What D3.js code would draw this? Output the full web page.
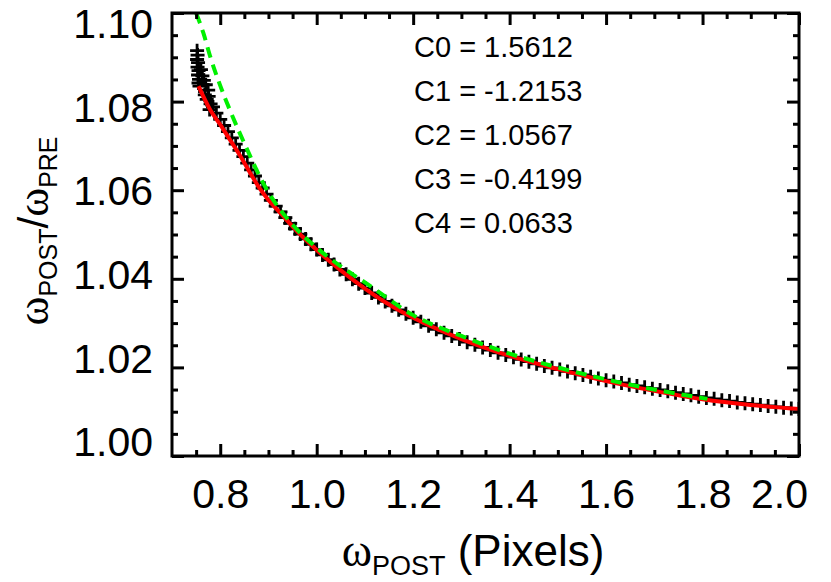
<!DOCTYPE html>
<html>
<head>
<meta charset="utf-8">
<script src="https://cdn.jsdelivr.net/npm/d3@7"></script>
<style>
  html, body { margin: 0; padding: 0; background: #fff; }
  svg { display: block; }
</style>
</head>
<body>
<svg id="chart" width="831" height="582"></svg>
<script>
// ---------------- DATA ----------------
const xMajor = [0.8, 1.0, 1.2, 1.4, 1.6, 1.8, 2.0];
const xTickLabels = ["0.8", "1.0", "1.2", "1.4", "1.6", "1.8", "2.0"];
const xMinor = [0.75, 0.85, 0.9, 0.95, 1.05, 1.1, 1.15, 1.25, 1.3, 1.35, 1.45, 1.5, 1.55, 1.65, 1.7, 1.75, 1.85, 1.9, 1.95];
const yMajor = [1.00, 1.02, 1.04, 1.06, 1.08, 1.10];
const yTickLabels = ["1.00", "1.02", "1.04", "1.06", "1.08", "1.10"];
const yMinor = [1.005, 1.01, 1.015, 1.025, 1.03, 1.035, 1.045, 1.05, 1.055, 1.065, 1.07, 1.075, 1.085, 1.09, 1.095];

const coefNames = ["C0", "C1", "C2", "C3", "C4"];
const coefValues = ["1.5612", "-1.2153", "1.0567", "-0.4199", "0.0633"];

// measured points (crosses)
const ptX = [0.752, 0.753, 0.752, 0.754, 0.753, 0.755, 0.754, 0.756, 0.755, 0.757,
  0.760, 0.763, 0.766, 0.770, 0.768, 0.772, 0.776, 0.780, 0.778, 0.775,
  0.785, 0.792, 0.800, 0.808, 0.816, 0.824, 0.832, 0.840, 0.848, 0.856,
  0.864, 0.872, 0.880, 0.888, 0.896, 0.905, 0.915, 0.925, 0.935, 0.945,
  0.955, 0.966, 0.977, 0.988, 1.000, 1.012, 1.024, 1.036, 1.048, 1.061,
  1.074, 1.087, 1.100, 1.114, 1.128, 1.142, 1.156, 1.170, 1.185, 1.200,
  1.216, 1.232, 1.248, 1.264, 1.280, 1.296, 1.312, 1.328, 1.344, 1.360,
  1.376, 1.392, 1.408, 1.424, 1.440, 1.456, 1.472, 1.488, 1.504, 1.520,
  1.536, 1.552, 1.568, 1.584, 1.600, 1.616, 1.632, 1.648, 1.664, 1.680,
  1.696, 1.712, 1.728, 1.744, 1.760, 1.776, 1.792, 1.808, 1.824, 1.840,
  1.856, 1.872, 1.888, 1.904, 1.920, 1.936, 1.952, 1.968, 1.984, 2.000];
const ptY = [1.0915, 1.0905, 1.0895, 1.0888, 1.0878, 1.0870, 1.0860, 1.0850, 1.0842, 1.0835,
  1.0872, 1.0858, 1.0848, 1.0838, 1.0815, 1.0805, 1.0812, 1.0795, 1.0782, 1.0826,
  1.0788, 1.0774, 1.0760, 1.0746, 1.0732, 1.0718, 1.0704, 1.0690, 1.0676, 1.0661,
  1.0646, 1.0632, 1.0617, 1.0605, 1.0591, 1.0577, 1.0564, 1.0551, 1.0538, 1.0525,
  1.0513, 1.0501, 1.0490, 1.0478, 1.0466, 1.0454, 1.0443, 1.0432, 1.0421, 1.0410,
  1.0399, 1.0389, 1.0379, 1.0368, 1.0358, 1.0349, 1.0339, 1.0330, 1.0321, 1.0312,
  1.0303, 1.0294, 1.0286, 1.0278, 1.0271, 1.0264, 1.0257, 1.0251, 1.0245, 1.0239,
  1.0233, 1.0228, 1.0223, 1.0218, 1.0213, 1.0208, 1.0203, 1.0199, 1.0195, 1.0191,
  1.0187, 1.0183, 1.0179, 1.0175, 1.0171, 1.0168, 1.0165, 1.0161, 1.0158, 1.0155,
  1.0152, 1.0149, 1.0146, 1.0143, 1.0140, 1.0137, 1.0134, 1.0131, 1.0129, 1.0126,
  1.0124, 1.0121, 1.0119, 1.0117, 1.0115, 1.0113, 1.0111, 1.0109, 1.0107, 1.0106];

// red solid curve (polynomial fit)
const fitX = [0.755, 0.780, 0.800, 0.820, 0.840, 0.860, 0.880, 0.900, 0.925, 0.950,
  1.000, 1.050, 1.100, 1.150, 1.200, 1.300, 1.400, 1.500, 1.600, 1.700, 1.800, 1.900, 2.000];
const fitY = [1.0835, 1.0780, 1.0748, 1.0714, 1.0680, 1.0643, 1.0607, 1.0578, 1.0548, 1.0518,
  1.0465, 1.0419, 1.0378, 1.0342, 1.0312, 1.0264, 1.0226, 1.0196, 1.0169, 1.0147, 1.0128, 1.0115, 1.0106];

// green dashed curve
const modelX = [0.750, 0.765, 0.780, 0.800, 0.820, 0.840, 0.860, 0.880, 0.900, 0.925, 0.950,
  1.000, 1.050, 1.100, 1.200, 1.300, 1.400, 1.500, 1.600, 1.700, 1.810];
const modelY = [1.1000, 1.0955, 1.0899, 1.0836, 1.0781, 1.0730, 1.0682, 1.0635, 1.0595, 1.0555, 1.0522,
  1.0470, 1.0428, 1.0392, 1.0318, 1.0271, 1.0231, 1.0200, 1.0173, 1.0150, 1.0129];

// ---------------- LAYOUT ----------------
const L = 172, R = 799, T = 13, B = 456;
const svg = d3.select("#chart");
const x = d3.scaleLinear().domain([0.7, 2.0]).range([L, R]);
const y = d3.scaleLinear().domain([1.0, 1.1]).range([B, T]);
// y tick labels sit slightly compressed relative to the ticks in the original
const yLab = d3.scaleLinear().domain([1.0, 1.1]).range([441, 23]);

const SANS = "'Liberation Sans', Arial, Helvetica, sans-serif";
const SERIF = "'Liberation Serif', 'Times New Roman', serif";

svg.append("defs").append("clipPath").attr("id", "clip")
  .append("rect").attr("x", L).attr("y", T).attr("width", R - L).attr("height", B - T);

const plot = svg.append("g").attr("clip-path", "url(#clip)");

// crosses
const pts = ptX.map((v, i) => [v, ptY[i]]);
plot.append("g").selectAll("path").data(pts).join("path")
  .attr("transform", d => `translate(${x(d[0])},${y(d[1])})`)
  .attr("d", "M-7,0H7M0,-7V7")
  .attr("stroke", "#000").attr("stroke-width", 2.8).attr("fill", "none");

const line = d3.line().x(d => x(d[0])).y(d => y(d[1])).curve(d3.curveMonotoneX);

plot.append("path").datum(fitX.map((v, i) => [v, fitY[i]]))
  .attr("d", line).attr("fill", "none").attr("stroke", "#ff0000").attr("stroke-width", 4);

plot.append("path").datum(modelX.map((v, i) => [v, modelY[i]]))
  .attr("d", line).attr("fill", "none").attr("stroke", "#00f000")
  .attr("stroke-width", 4).attr("stroke-dasharray", "11,7");

// ---------------- AXES ----------------
function styleAxis(g) {
  g.select(".domain").remove();
  g.selectAll("line").attr("stroke", "#000").attr("stroke-width", 3);
}
// bottom
svg.append("g").attr("transform", `translate(0,${B})`)
  .call(d3.axisBottom(x).tickValues(xMinor).tickSize(-6).tickFormat(""))
  .call(styleAxis);
const bx = svg.append("g").attr("transform", `translate(0,${B})`)
  .call(d3.axisBottom(x).tickValues(xMajor).tickSize(-12)
    .tickFormat((d, i) => xTickLabels[i]))
  .call(styleAxis);
bx.selectAll("text")
  .attr("font-family", SANS).attr("font-size", 41).attr("fill", "#000")
  .attr("y", 52).attr("dy", 0)
  .attr("x", (d, i) => i === xMajor.length - 1 ? -20 : 0);
// top
svg.append("g").attr("transform", `translate(0,${T})`)
  .call(d3.axisTop(x).tickValues(xMinor).tickSize(-6).tickFormat(""))
  .call(styleAxis);
svg.append("g").attr("transform", `translate(0,${T})`)
  .call(d3.axisTop(x).tickValues(xMajor).tickSize(-12).tickFormat(""))
  .call(styleAxis);
// left
svg.append("g").attr("transform", `translate(${L},0)`)
  .call(d3.axisLeft(y).tickValues(yMinor).tickSize(-6).tickFormat(""))
  .call(styleAxis);
const ly = svg.append("g").attr("transform", `translate(${L},0)`)
  .call(d3.axisLeft(y).tickValues(yMajor).tickSize(-12)
    .tickFormat((d, i) => yTickLabels[i]))
  .call(styleAxis);
ly.selectAll("text")
  .attr("font-family", SANS).attr("font-size", 41).attr("fill", "#000")
  .attr("x", -19).attr("dy", "0.36em")
  .attr("y", d => yLab(d) - y(d));
// right
svg.append("g").attr("transform", `translate(${R},0)`)
  .call(d3.axisRight(y).tickValues(yMinor).tickSize(-6).tickFormat(""))
  .call(styleAxis);
svg.append("g").attr("transform", `translate(${R},0)`)
  .call(d3.axisRight(y).tickValues(yMajor).tickSize(-12).tickFormat(""))
  .call(styleAxis);

// frame
svg.append("rect").attr("x", L).attr("y", T).attr("width", R - L).attr("height", B - T)
  .attr("fill", "none").attr("stroke", "#000").attr("stroke-width", 3);

// ---------------- TEXT ----------------
svg.append("g").selectAll("text").data(coefNames).join("text")
  .attr("x", 414).attr("y", (d, i) => 57 + i * 44)
  .attr("font-family", SANS).attr("font-size", 29).attr("fill", "#000")
  .text((d, i) => `${d} = ${coefValues[i]}`);

// x title
const xt = svg.append("text").attr("x", 473).attr("y", 566)
  .attr("text-anchor", "middle").attr("fill", "#000");
xt.append("tspan").attr("font-family", SERIF).attr("font-size", 46).text("ω");
xt.append("tspan").attr("font-family", SANS).attr("font-size", 27).attr("dy", 9).text("POST");
xt.append("tspan").attr("font-family", SANS).attr("font-size", 44).attr("dy", -9).text(" (Pixels)");

// y title
const yt = svg.append("text").attr("transform", "translate(48,231) rotate(-90)")
  .attr("text-anchor", "middle").attr("fill", "#000");
yt.append("tspan").attr("font-family", SERIF).attr("font-size", 44).text("ω");
yt.append("tspan").attr("font-family", SANS).attr("font-size", 25).attr("dy", 9).text("POST");
yt.append("tspan").attr("font-family", SANS).attr("font-size", 42).attr("dy", -9).text("/");
yt.append("tspan").attr("font-family", SERIF).attr("font-size", 44).text("ω");
yt.append("tspan").attr("font-family", SANS).attr("font-size", 25).attr("dy", 9).text("PRE");
</script>
</body>
</html>
